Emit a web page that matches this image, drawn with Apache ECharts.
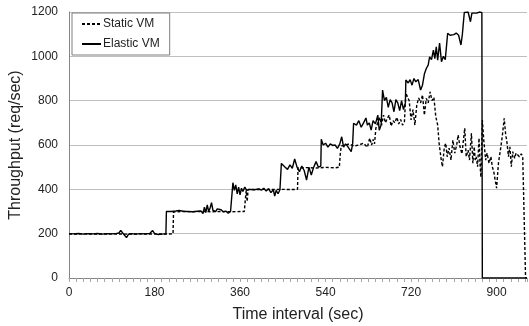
<!DOCTYPE html>
<html><head><meta charset="utf-8">
<script src="https://cdn.jsdelivr.net/npm/echarts@6/dist/echarts.min.js"></script>
<style>html,body{margin:0;padding:0;background:#fff}#c{width:529px;height:326px}</style>
</head><body><div id="c"></div>
<script>
// [time (sec), throughput (req/sec)]
var staticVM = [
[0,198],[30,199],[60,198],[90,199],[120,198],[150,199],[180,198],[219,199],
[220,298],[240,300],[260,299],[280,300],[300,299],[320,300],[340,299],[369,300],
[371,350],[373,395],[375,345],[377,400],[390,399],[410,400],[430,399],[450,400],[470,399],[481,400],
[482,497],[500,498],[520,496],[540,499],[560,497],[569,500],[571,560],[573,596],
[580,598],[590,605],[600,595],[610,600],[620,608],[628,590],[633,631],[637,600],[640,625],[643,605],
[646,677],[650,700],[654,725],[658,690],[662,735],[666,700],[670,720],[674,735],[678,685],[682,710],[686,700],[690,725],[694,695],[698,715],[702,690],[706,705],
[709,834],[712,840],[716,800],[720,713],[724,760],[728,690],[732,780],[736,812],[740,790],[744,826],[748,735],[752,810],[756,790],[760,840],[764,800],[768,815],[772,728],[776,690],
[779,608],[783,540],[786,502],[790,590],[793,608],[796,547],[800,586],[804,532],[808,622],[812,563],[816,600],[819,645],[823,592],[827,560],[833,676],[836,547],[840,577],[843,532],[847,653],[850,518],[853,592],[855,532],[857,547],[860,502],[863,631],[865,518],[867,455],
[870,713],[873,622],[877,532],[880,563],[884,518],[888,547],[891,502],[894,480],[900,405],[904,520],[908,577],[912,640],[916,720],[919,650],[922,608],[925,547],[928,592],[931,502],[934,570],[938,540],[941,563],[944,555],[948,547],[952,560],[955,547],[958,540],
[961,0],[964,0]
];
var elasticVM = [
[0,200],[10,199],[20,201],[30,198],[40,200],[50,199],[60,201],[70,198],[80,200],[90,199],[100,201],[105,203],[109,215],[113,203],[117,196],[121,182],[125,197],[130,200],[140,198],[150,200],[160,199],[170,201],[176,214],[180,201],[188,196],[194,198],[204,199],
[205,300],[215,300],[225,302],[232,305],[235,312],[240,301],[250,300],[260,299],[270,301],[278,302],[282,290],[285,320],[288,295],[291,330],[294,300],[297,316],[300,340],[303,305],[306,311],[309,300],[312,312],[315,304],[320,308],[325,298],[330,302],[335,292],[340,300],[344,298],
[345,430],[348,395],[351,420],[354,380],[357,410],[360,375],[363,405],[366,390],[370,410],[374,395],[380,400],[390,398],[400,402],[405,396],[410,405],[415,392],[420,403],[425,385],[430,398],[433,370],[436,395],[440,380],[444,398],
[447,517],[450,525],[455,500],[460,490],[465,510],[470,495],[475,537],[480,500],[485,480],[490,505],[495,485],[500,442],[505,500],[510,465],[515,500],[520,525],[525,500],[530,505],
[531,626],[535,600],[540,608],[545,590],[550,605],[555,598],[560,600],[565,585],[570,605],[574,637],[578,590],[582,605],[586,595],[590,600],[594,570],[597,605],
[599,698],[605,690],[610,710],[615,680],[620,700],[625,722],[628,690],[632,700],[636,667],[640,710],[645,695],[650,735],[653,667],[657,690],
[660,848],[664,800],[668,815],[672,770],[676,805],[680,790],[684,750],[688,805],[692,790],[696,755],[700,800],[704,760],[708,790],
[709,893],[714,880],[718,895],[722,870],[726,900],[730,885],[735,895],[740,848],[744,870],[748,920],[752,945],[756,960],[759,998],[763,985],[767,1028],[770,990],[773,1043],[776,983],[780,1060],[784,976],[788,1000],[792,985],
[797,1104],[802,1095],[806,1100],[810,1098],[815,1105],[820,1095],[825,1051],[828,1100],[831,1100],
[832,1198],[836,1195],[840,1200],[845,1156],[848,1195],[852,1200],[858,1195],[864,1200],[869,1198],
[870,0],[964,0]
];
var xLabelStep = 180;
var yTicks = [0, 200, 400, 600, 800, 1000, 1200];

var font = '"Liberation Sans", Arial, sans-serif';
var chart = echarts.init(document.getElementById('c'), null, {renderer: 'canvas'});
chart.setOption({
  animation: false,
  grid: {left: 69, right: 2, top: 12, bottom: 48, containLabel: false, outerBoundsMode: 'none'},
  legend: {
    left: 72, top: 13, orient: 'vertical',
    itemWidth: 19, itemHeight: 14, itemGap: 8,
    padding: [5, 10, 5, 9],
    borderColor: '#7f7f7f', borderWidth: 1, backgroundColor: '#fff',
    itemStyle: {opacity: 0},
    textStyle: {fontFamily: font, fontSize: 12, color: '#222', padding: [0, 0, 0, -3]},
    data: ['Static VM', 'Elastic VM']
  },
  xAxis: {
    type: 'value', min: 0, max: 964, interval: 15,
    name: 'Time interval (sec)', nameLocation: 'middle', nameGap: 29,
    nameTextStyle: {fontFamily: font, fontSize: 16, color: '#222'},
    axisLine: {show: true, lineStyle: {color: '#868686', width: 1}},
    axisTick: {show: true, length: 4, lineStyle: {color: '#a6a6a6'}},
    axisLabel: {fontFamily: font, fontSize: 12, color: '#222', margin: 9,
      formatter: function (v) { return (v % xLabelStep === 0) ? String(v) : ''; }},
    splitLine: {show: false}
  },
  yAxis: {
    type: 'value', min: yTicks[0], max: yTicks[yTicks.length - 1], interval: 200,
    name: 'Throughput (req/sec)', nameLocation: 'middle', nameGap: 45, nameMoveOverlap: false,
    nameTextStyle: {fontFamily: font, fontSize: 16, color: '#222'},
    axisLine: {show: true, lineStyle: {color: '#868686', width: 1}},
    axisTick: {show: false},
    axisLabel: {fontFamily: font, fontSize: 12, color: '#222', margin: 11,
      formatter: function (v) { return String(v); }},
    splitLine: {show: true, lineStyle: {color: '#bfbfbf', width: 1}}
  },
  series: [
    {name: 'Static VM', type: 'line', symbol: 'none', data: staticVM,
     lineStyle: {color: '#000', width: 1.4, type: [3, 2]}, itemStyle: {color: '#000'}},
    {name: 'Elastic VM', type: 'line', symbol: 'none', data: elasticVM,
     lineStyle: {color: '#000', width: 1.4, type: 'solid'}, itemStyle: {color: '#000'}}
  ]
});
</script></body></html>
